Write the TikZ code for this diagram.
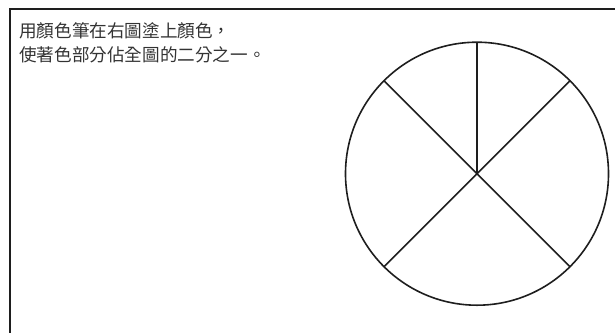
\documentclass[tikz,border=0pt]{standalone}
\usepackage{fontspec}
\newfontfamily\cjk{Noto Sans CJK TC}
\definecolor{ink}{HTML}{1E1E1E}
\definecolor{txt}{HTML}{333333}
\begin{document}
\begin{tikzpicture}[x=1pt,y=-1pt,
  frame/.style={draw=ink,line width=2pt},
  wheel/.style={circle,draw=ink,line width=1.6pt,minimum size=263pt,inner sep=0pt,outer sep=0pt},
  spoke/.style={draw=ink,line width=1.6pt},
  label/.style={anchor=base west,inner sep=0pt,text=txt,font=\cjk\fontsize{17.6pt}{24pt}\selectfont}]
\useasboundingbox (0,0) rectangle (615,333);
\coordinate (tl) at (10,9);
\coordinate (tr) at (615,9);
\coordinate (bl) at (10,333);
\draw[frame] (tr) -- (tl) -- (bl);
\node[label] (l1) at (19,37) {用顏色筆在右圖塗上顏色，};
\node[label] (l2) at (19,61.5) {使著色部分佔全圖的二分之一。};
\node[wheel] (w) at (477,173.7) {};
\draw[spoke] (w.center) -- (w.north);
\draw[spoke] (w.135) -- (w.-45);
\draw[spoke] (w.45) -- (w.-135);
\end{tikzpicture}
\end{document}
